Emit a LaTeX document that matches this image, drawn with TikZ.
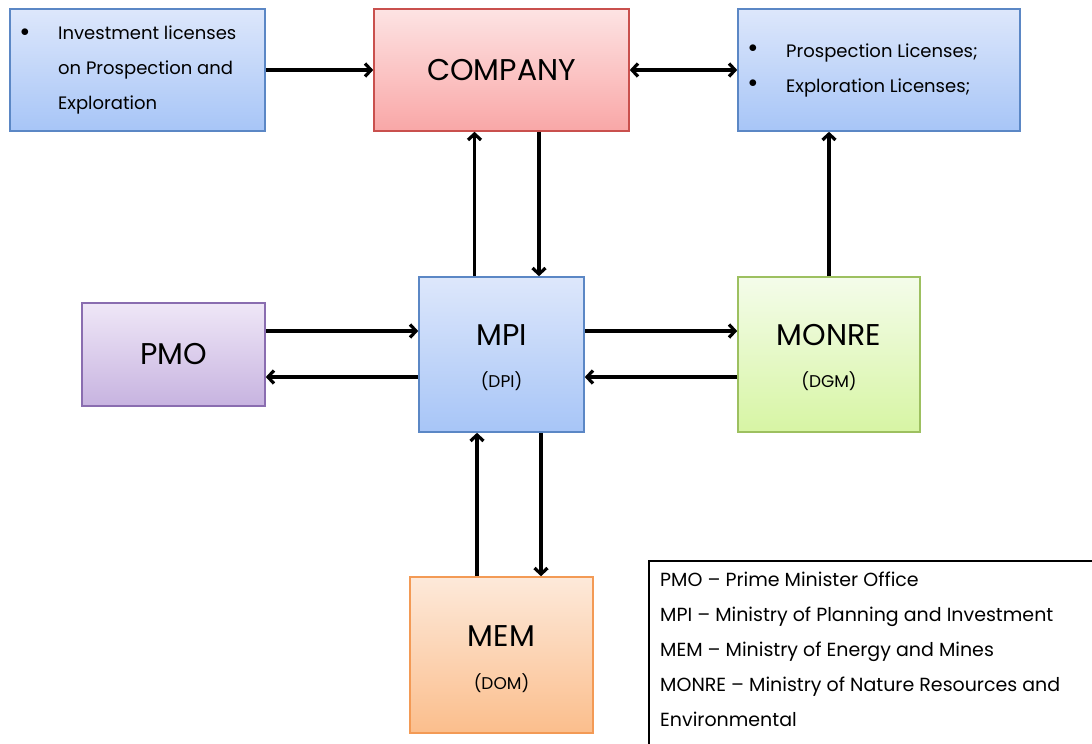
\documentclass[tikz,border=0pt]{standalone}
\usepackage{fontspec}
\setmainfont{Poppins}
\usetikzlibrary{arrows.meta}
\definecolor{blueTop}{HTML}{DDE7FB}
\definecolor{blueBot}{HTML}{A7C5F7}
\definecolor{blueLine}{HTML}{5B87C5}
\definecolor{redTop}{HTML}{FDE3E3}
\definecolor{redBot}{HTML}{F9A7A7}
\definecolor{redLine}{HTML}{C9504D}
\definecolor{purpleTop}{HTML}{EFE7F7}
\definecolor{purpleBot}{HTML}{C7B3E0}
\definecolor{purpleLine}{HTML}{8A6DB0}
\definecolor{greenTop}{HTML}{F4FCEA}
\definecolor{greenBot}{HTML}{D7F5A4}
\definecolor{greenLine}{HTML}{9DC060}
\definecolor{orangeTop}{HTML}{FDE9DA}
\definecolor{orangeBot}{HTML}{FBBE8C}
\definecolor{orangeLine}{HTML}{F39A55}
\tikzset{
  box/.style={draw, line width=1.6pt, inner sep=0pt},
  bluebox/.style={box, draw=blueLine, top color=blueTop, bottom color=blueBot},
  arr/.style={line width=3.2pt, -{Straight Barb[length=6pt,width=13pt]}},
  biarr/.style={line width=3.2pt, {Straight Barb[length=6pt,width=13pt]}-{Straight Barb[length=6pt,width=13pt]}},
  big/.style={font=\fontsize{30}{36}\selectfont},
  small/.style={font=\fontsize{17}{20}\selectfont},
  body/.style={font=\fontsize{18}{35}\selectfont, align=left, inner sep=0pt}
}
\begin{document}
\begin{tikzpicture}[x=1pt,y=-1pt]
\useasboundingbox (0,0) rectangle (1092,744);

\node[bluebox, minimum width=255pt, minimum height=122pt] (inv) at (137.5,70) {};
\node[box, draw=redLine, top color=redTop, bottom color=redBot, minimum width=255pt, minimum height=122pt, big] (comp) at (501.5,70) {COMPANY};
\node[bluebox, minimum width=282pt, minimum height=122pt] (pros) at (879,70) {};

\node[box, draw=purpleLine, top color=purpleTop, bottom color=purpleBot, minimum width=183pt, minimum height=103pt, big] (pmo) at (173.5,354.5) {PMO};
\node[bluebox, minimum width=165pt, minimum height=155pt] (mpi) at (501.5,354.5) {};
\node[box, draw=greenLine, top color=greenTop, bottom color=greenBot, minimum width=182pt, minimum height=155pt] (monre) at (829,354.5) {};
\node[box, draw=orangeLine, top color=orangeTop, bottom color=orangeBot, minimum width=183pt, minimum height=156pt] (mem) at (501.5,655) {};

% box texts
\node[body] (invB) at (25,33) {$\bullet$};
\node[body, anchor=west] (invT) at (58,70) {Investment licenses\\on Prospection and\\Exploration};
\node[body] (prosB1) at (753,49) {$\bullet$};
\node[body] (prosB2) at (753,84) {$\bullet$};
\node[body, anchor=west] (prosT) at (786,70) {Prospection Licenses;\\Exploration Licenses;};

\node[big] (mpiT) at (501.5,335) {MPI};
\node[small] (mpiS) at (501.5,381) {(DPI)};
\node[big] (monreT) at (829,335) {MONRE};
\node[small] (monreS) at (829,381) {(DGM)};
\node[big] (memT) at (501.5,636) {MEM};
\node[small] (memS) at (501.5,683) {(DOM)};

% legend
\node[draw, line width=1.6pt, anchor=north west, minimum width=460pt, minimum height=200pt, inner sep=0pt] (leg) at (648,560) {};
\node[body, font=\fontsize{19}{35}\selectfont, anchor=north west] (legT) at (660,572) {PMO -- Prime Minister Office\\MPI -- Ministry of Planning and Investment\\MEM -- Ministry of Energy and Mines\\MONRE -- Ministry of Nature Resources and\\Environmental};

% connectors
\draw[arr] (inv) -- (comp);
\draw[biarr] (comp) -- (pros);
\draw[arr] ([xshift=-27pt]mpi.north) -- ([xshift=-27pt]mpi.north |- comp.south);
\draw[arr] ([xshift=37.5pt]comp.south) -- ([xshift=37.5pt]comp.south |- mpi.north);
\draw[arr] (monre.north) -- (monre.north |- pros.south);
\draw[arr] ([yshift=23.5pt]pmo.east) -- ([yshift=23.5pt]mpi.west);
\draw[arr] ([yshift=-22.5pt]mpi.west) -- ([yshift=-22.5pt]pmo.east);
\draw[arr] ([yshift=23.5pt]mpi.east) -- ([yshift=23.5pt]monre.west);
\draw[arr] ([yshift=-22.5pt]monre.west) -- ([yshift=-22.5pt]mpi.east);
\draw[arr] ([xshift=-24.5pt]mem.north) -- ([xshift=-24.5pt]mem.north |- mpi.south);
\draw[arr] ([xshift=39.5pt]mpi.south) -- ([xshift=39.5pt]mpi.south |- mem.north);
\end{tikzpicture}
\end{document}
